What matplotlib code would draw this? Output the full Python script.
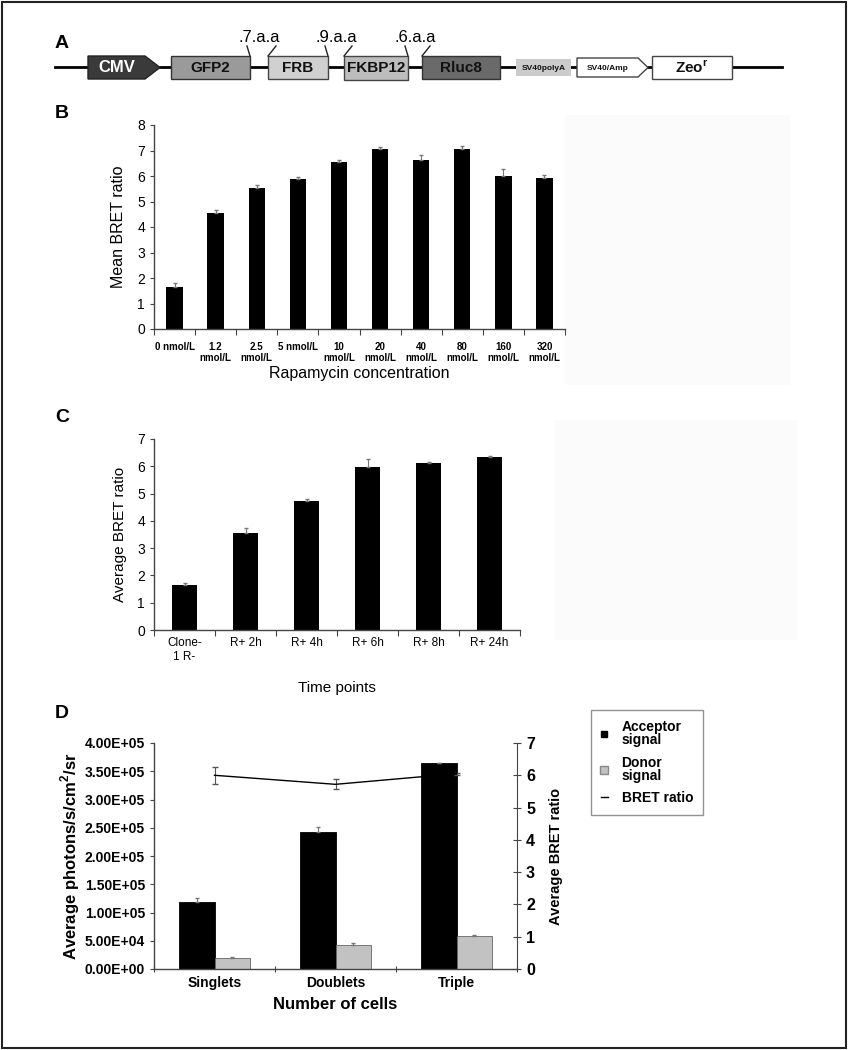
import matplotlib
matplotlib.use("Agg")
from matplotlib import pyplot as plt
from matplotlib.patches import Rectangle, Polygon
from matplotlib.lines import Line2D
import numpy as np

plt.rcParams['font.family'] = ['Liberation Sans', 'DejaVu Sans']
plt.rcParams['mathtext.fontset'] = 'custom'
plt.rcParams['mathtext.rm'] = 'Liberation Sans'
plt.rcParams['mathtext.bf'] = 'Liberation Sans:bold'

# panel A: construct map
construct = ["CMV", "GFP2", "FRB", "FKBP12", "Rluc8", "SV40polyA", "SV40/Amp", r"Zeo$^\mathbf{r}$"]
linkers = [".7.a.a", ".9.a.a", ".6.a.a"]

# panel B: rapamycin dose
conc_labels = ["0 nmol/L", "1.2\nnmol/L", "2.5\nnmol/L", "5 nmol/L", "10\nnmol/L",
               "20\nnmol/L", "40\nnmol/L", "80\nnmol/L", "160\nnmol/L", "320\nnmol/L"]
conc_bret = [1.66, 4.56, 5.52, 5.87, 6.54, 7.05, 6.63, 7.06, 6.01, 5.93]
conc_err = [0.15, 0.1, 0.12, 0.08, 0.1, 0.08, 0.18, 0.1, 0.25, 0.1]

# panel C: time course
time_labels = ["Clone-\n1 R-", "R+ 2h", "R+ 4h", "R+ 6h", "R+ 8h", "R+ 24h"]
time_bret = [1.65, 3.54, 4.74, 5.98, 6.11, 6.33]
time_err = [0.07, 0.18, 0.05, 0.3, 0.05, 0.05]

# panel D: number of cells
cell_labels = ["Singlets", "Doublets", "Triple"]
acceptor = [1.18e5, 2.43e5, 3.64e5]
acceptor_err = [0.08e5, 0.09e5, 0.01e5]
donor = [2.0e4, 4.25e4, 5.9e4]
donor_err = [0.1e4, 0.4e4, 0.1e4]
cell_bret = [6.0, 5.72, 6.05]
cell_bret_err = [0.27, 0.15, 0.03]

W, H = 848, 1050
fig = plt.figure(figsize=(W / 100, H / 100), dpi=100)

# overlay in pixel coords for panel A, letters, frame
ov = fig.add_axes([0, 0, 1, 1])
ov.set_xlim(0, W)
ov.set_ylim(H, 0)
ov.axis('off')

ov.add_patch(Rectangle((565, 115), 225, 270, fc='#fbfbfb', ec='none', zorder=0))
ov.add_patch(Rectangle((555, 420), 242, 220, fc='#fbfbfb', ec='none', zorder=0))
ov.add_patch(Rectangle((2, 2), W - 4, H - 4, fill=False, ec='#222', lw=1.5))

ov.plot([55, 782], [67, 67], color='black', lw=2, zorder=1)

# boxes: (x0, x1, y0, y1, face, edge, textcolor, size)
boxes = [
    (88, 160, 56, 79, '#3a3a3a', '#222', 'white', 12),
    (171, 250, 56, 79, '#9a9a9a', '#333', '#111', 11),
    (268, 328, 56, 79, '#d0d0d0', '#444', '#111', 11),
    (344, 408, 56, 80, '#bdbdbd', '#444', '#111', 11),
    (422, 500, 56, 79, '#6a6a6a', '#333', '#111', 11),
    (516, 571, 59, 76, '#cccccc', 'none', '#111', 6),
    (577, 648, 58, 77, 'white', '#444', '#111', 6),
    (652, 732, 56, 79, 'white', '#444', '#111', 11),
]
for name, (x0, x1, y0, y1, fc, ec, tc, fs) in zip(construct, boxes):
    if name in ("CMV", "SV40/Amp"):
        tip = 15 if name == "CMV" else 10
        pts = [(x0, y0), (x1 - tip, y0), (x1, (y0 + y1) / 2), (x1 - tip, y1), (x0, y1)]
        ov.add_patch(Polygon(pts, closed=True, fc=fc, ec=ec, lw=1, zorder=2))
        cx = (x0 + x1 - tip) / 2
    else:
        ov.add_patch(Rectangle((x0, y0), x1 - x0, y1 - y0, fc=fc, ec=ec, lw=1, zorder=2))
        cx = (x0 + x1) / 2
    ov.text(cx, (y0 + y1) / 2 + 0.5, name, ha='center', va='center', color=tc,
            fontsize=fs, fontweight='bold', zorder=3)

for i, lab in enumerate(linkers):
    end = boxes[i + 1][1]
    start = boxes[i + 2][0]
    ov.plot([end - 3, end], [46, 56], color='#222', lw=1)
    ov.plot([start, start + 8], [56, 46], color='#222', lw=1)
    ov.text((end + start) / 2, 37, lab, ha='center', va='center', fontsize=12)

ov.text(62, 44, "A", ha='center', va='center', fontsize=14, fontweight='bold')
for letter, y in [("B", 113), ("C", 418), ("D", 713)]:
    ov.text(62, y, letter, ha='center', va='center', fontsize=14, fontweight='bold')


def style_axes(ax):
    for s in ['top', 'right']:
        ax.spines[s].set_visible(False)
    for s in ['left', 'bottom']:
        ax.spines[s].set_color('#444')
        ax.spines[s].set_linewidth(1)
    ax.tick_params(axis='y', length=3, width=0.8, color='#444')
    ax.tick_params(axis='x', which='major', length=4, width=0.8, color='#444')
    ax.tick_params(axis='x', which='minor', length=0)
    ax.set_facecolor('none')


def up_err(ax, x, y, err):
    ax.errorbar(x, y, yerr=[np.zeros(len(err)), err], fmt='none', ecolor='#777',
                elinewidth=0.8, capsize=1.5)


# ---- B ----
axb = fig.add_axes([154 / W, 1 - 329 / H, 411 / W, 204 / H])
xb = np.arange(len(conc_labels))
axb.bar(xb, conc_bret, width=0.4, color='black')
up_err(axb, xb, conc_bret, conc_err)
axb.set_xlim(-0.5, len(xb) - 0.5)
axb.set_ylim(0, 8)
axb.set_yticks(range(0, 9))
axb.set_xticks(np.arange(-0.5, len(xb), 1), labels=[])
axb.set_xticks(xb, labels=conc_labels, minor=True, fontsize=7, fontweight='bold')
style_axes(axb)
axb.tick_params(axis='x', which='minor', pad=9)
axb.tick_params(axis='y', labelsize=10)
axb.set_ylabel("Mean BRET ratio", fontsize=11.5, labelpad=8)
axb.set_xlabel("Rapamycin concentration", fontsize=11.5, labelpad=2)

# ---- C ----
axc = fig.add_axes([154 / W, 1 - 630 / H, 366 / W, 191 / H])
xc = np.arange(len(time_labels))
axc.bar(xc, time_bret, width=0.41, color='black')
up_err(axc, xc, time_bret, time_err)
axc.set_xlim(-0.5, len(xc) - 0.5)
axc.set_ylim(0, 7)
axc.set_yticks(range(0, 8))
axc.set_xticks(np.arange(-0.5, len(xc), 1), labels=[])
axc.set_xticks(xc, labels=time_labels, minor=True, fontsize=8.5)
style_axes(axc)
axc.tick_params(axis='x', which='minor', pad=5)
axc.tick_params(axis='y', labelsize=10)
axc.set_ylabel("Average BRET ratio", fontsize=11, labelpad=7)
axc.set_xlabel("Time points", fontsize=11, labelpad=13)

# ---- D ----
axd = fig.add_axes([154 / W, 1 - 969 / H, 363 / W, 226 / H])
xd = np.arange(len(cell_labels))
bw = 0.29
axd.bar(xd - bw / 2, acceptor, width=bw, color='black', edgecolor='black', lw=0.6)
axd.bar(xd + bw / 2, donor, width=bw, color='#c2c2c2', edgecolor='#666', lw=0.6)
up_err(axd, xd - bw / 2, acceptor, acceptor_err)
up_err(axd, xd + bw / 2, donor, donor_err)
axd.set_xlim(-0.5, len(xd) - 0.5)
axd.set_ylim(0, 4e5)
yt = np.arange(0, 4.01e5, 0.5e5)
axd.set_yticks(yt, labels=[f"{v:.2E}" for v in yt], fontsize=10, fontweight='bold')
axd.set_xticks(np.arange(-0.5, len(xd), 1), labels=[])
axd.set_xticks(xd, labels=cell_labels, minor=True, fontsize=10, fontweight='bold')
style_axes(axd)
axd.tick_params(axis='x', which='major', direction='inout', length=5)
axd.tick_params(axis='x', which='minor', pad=5)
axd.set_ylabel(r"Average photons/s/cm$^\mathbf{2}$/sr", fontsize=12, fontweight='bold', labelpad=2)
axd.set_xlabel("Number of cells", fontsize=12, fontweight='bold', labelpad=5)

axd2 = axd.twinx()
axd2.errorbar(xd, cell_bret, yerr=cell_bret_err, color='black', lw=1, ecolor='#555',
              elinewidth=0.8, capsize=2)
axd2.set_ylim(0, 7)
axd2.set_yticks(range(0, 8))
axd2.tick_params(axis='y', direction='inout', length=6, width=0.8, color='#444', labelsize=11.5)
for lab in axd2.get_yticklabels():
    lab.set_fontweight('bold')
for s in ['top', 'left', 'bottom']:
    axd2.spines[s].set_visible(False)
axd2.spines['right'].set_color('#444')
axd2.set_ylabel("Average BRET ratio", fontsize=10.5, fontweight='bold', labelpad=10)

handles = [
    Line2D([], [], marker='s', color='black', ls='none', ms=5),
    Line2D([], [], marker='s', mfc='#c2c2c2', mec='#888', ls='none', ms=6),
    Line2D([], [], color='black', lw=1),
]
leg = fig.legend(handles, ["Acceptor\nsignal", "Donor\nsignal", "BRET ratio"],
                 loc='upper left', bbox_to_anchor=(591 / W, 1 - 710 / H),
                 borderaxespad=0, frameon=True, fancybox=False, edgecolor='#777',
                 prop=dict(weight='bold', size=10), handlelength=0.5,
                 labelspacing=0.6, borderpad=0.7, handletextpad=1.0)
leg.get_frame().set_linewidth(1)
for t in leg.get_texts():
    t.set_linespacing(0.95)

plt.savefig("out.png", dpi=100)
